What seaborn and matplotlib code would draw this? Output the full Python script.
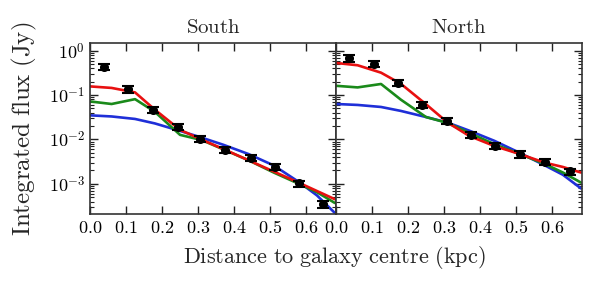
import matplotlib
matplotlib.use("Agg")
import matplotlib.pyplot as plt
import matplotlib.ticker as mticker
import numpy as np
import pandas as pd
import seaborn as sns

# observed fluxes
south_x = [0.040, 0.105, 0.176, 0.243, 0.305, 0.374, 0.447, 0.514, 0.581, 0.648]
south_y = [0.44, 0.136, 0.047, 0.0196, 0.0102, 0.0058, 0.0038, 0.00245, 0.00102, 0.00035]
south_err = [0.07, 0.022, 0.008, 0.003, 0.0016, 0.0009, 0.0006, 0.0004, 0.00016, 0.00006]

north_x = [0.037, 0.106, 0.173, 0.240, 0.307, 0.375, 0.442, 0.511, 0.580, 0.650]
north_y = [0.68, 0.51, 0.19, 0.060, 0.026, 0.0127, 0.0073, 0.0047, 0.0031, 0.0019]
north_err = [0.11, 0.08, 0.03, 0.010, 0.004, 0.002, 0.0012, 0.0008, 0.0005, 0.0003]

# model curves
model_x = [0.0, 0.06, 0.125, 0.18, 0.25, 0.31, 0.37, 0.44, 0.51, 0.58, 0.63, 0.68]
south_blue = [0.035, 0.033, 0.029, 0.023, 0.0156, 0.011, 0.0076, 0.0047, 0.0026, 0.0011, 0.00055, 0.00022]
south_green = [0.072, 0.063, 0.081, 0.042, 0.0127, 0.0097, 0.0060, 0.0034, 0.0018, 0.00100, 0.00065, 0.00037]
south_red = [0.157, 0.145, 0.115, 0.047, 0.0165, 0.0099, 0.0061, 0.0034, 0.0019, 0.00106, 0.00069, 0.00045]

north_blue = [0.063, 0.060, 0.054, 0.044, 0.032, 0.024, 0.0158, 0.0093, 0.0050, 0.0026, 0.0016, 0.00079]
north_green = [0.162, 0.149, 0.178, 0.079, 0.032, 0.0235, 0.014, 0.0078, 0.0047, 0.0028, 0.0018, 0.00107]
north_red = [0.53, 0.47, 0.32, 0.18, 0.062, 0.024, 0.012, 0.0071, 0.0047, 0.0030, 0.0024, 0.0018]

sns.set_theme(style="ticks")
plt.rcParams["font.family"] = ["DejaVu Serif"]
plt.rcParams["mathtext.fontset"] = "cm"

fig, axes = plt.subplots(1, 2, figsize=(6, 2.86), dpi=100, sharey=True)
fig.subplots_adjust(left=0.15, right=0.97, bottom=0.252, top=0.85, wspace=0)

panels = [
    ("South", south_x, south_y, south_err, south_blue, south_green, south_red),
    ("North", north_x, north_y, north_err, north_blue, north_green, north_red),
]

colors = {"blue": "#1f2fd8", "green": "#1a8a1a", "red": "#e81010"}

for ax, (name, px, py, pe, mb, mg, mr) in zip(axes, panels):
    df = pd.DataFrame({
        "x": model_x * 3,
        "flux": mb + mg + mr,
        "model": ["blue"] * len(model_x) + ["green"] * len(model_x) + ["red"] * len(model_x),
    })
    sns.lineplot(data=df, x="x", y="flux", hue="model", palette=colors,
                 linewidth=1.9, legend=False, ax=ax, sort=False)
    ax.errorbar(px, py, yerr=pe, fmt="o", color="black", markersize=5.5,
                capsize=4.5, elinewidth=1.5, capthick=1.5, zorder=5)

    ax.set_yscale("log")
    ax.set_ylim(2.1e-4, 1.5)
    ax.set_xlim(0, 0.683)
    ax.set_title(r"$\mathrm{%s}$" % name, fontsize=15, pad=7)
    ax.set_xlabel("")
    ax.set_ylabel("")

    ax.xaxis.set_major_locator(mticker.MultipleLocator(0.1))
    ax.xaxis.set_major_formatter(mticker.FuncFormatter(lambda v, p: r"$%.1f$" % v))
    ax.yaxis.set_major_locator(mticker.FixedLocator([1e-3, 1e-2, 1e-1, 1e0]))
    ax.yaxis.set_minor_locator(mticker.LogLocator(base=10, subs=np.arange(2, 10)))
    ax.yaxis.set_minor_formatter(mticker.NullFormatter())
    ax.tick_params(which="major", direction="in", length=6, width=1,
                   top=True, right=True, labelsize=13, colors="#222222", labelcolor="black")
    ax.tick_params(which="minor", direction="in", length=3, width=0.8,
                   left=True, right=True, colors="#222222")
    for sp in ax.spines.values():
        sp.set_linewidth(1.2)
        sp.set_color("#333333")

axes[0].yaxis.set_major_formatter(mticker.FixedFormatter(
    [r"$10^{-3}$", r"$10^{-2}$", r"$10^{-1}$", r"$10^{0}$"]))
axes[1].tick_params(labelleft=False)

fig.text(0.04, 0.55, r"$\mathrm{Integrated\ flux\ (Jy)}$", rotation=90,
         ha="center", va="center", fontsize=18)
fig.text(0.558, 0.1, r"$\mathrm{Distance\ to\ galaxy\ centre\ (kpc)}$",
         ha="center", va="center", fontsize=16)

fig.savefig("out.png", dpi=100)
